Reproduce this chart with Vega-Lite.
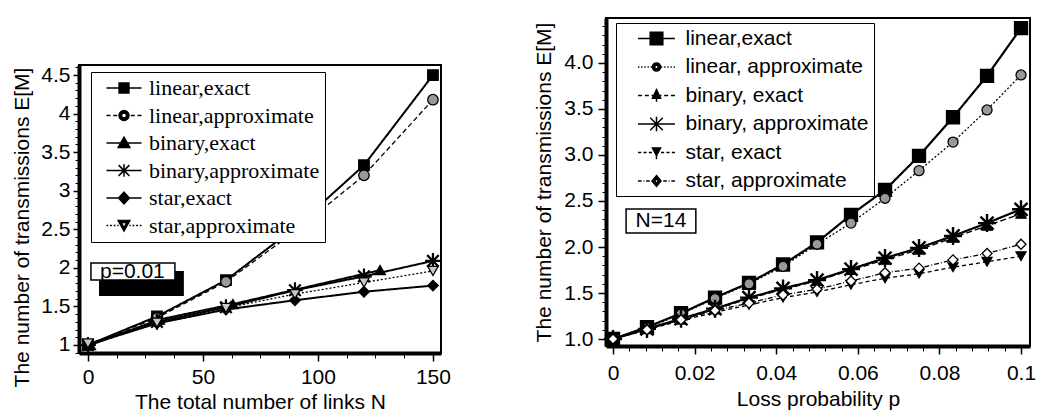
{
  "$schema": "https://vega.github.io/schema/vega-lite/v6.json",
  "background": "white",
  "padding": {"left": 10, "top": 17, "right": 2, "bottom": 2},
  "spacing": 80,
  "config": {
    "font": "Liberation Sans",
    "view": {"stroke": "black", "strokeWidth": 2},
    "axis": {
      "grid": false,
      "labelFont": "Liberation Sans",
      "titleFont": "Liberation Sans",
      "labelFontSize": 21,
      "titleFontSize": 21,
      "titleFontWeight": "normal",
      "labelColor": "black",
      "titleColor": "black",
      "tickColor": "black",
      "domainColor": "black"
    }
  },
  "resolve": {"scale": {"x": "independent", "y": "independent", "shape": "independent", "fill": "independent", "strokeDash": "independent"}},
  "hconcat": [
    {
      "spacing": 0,
      "vconcat": [
        {
          "width": 10,
          "height": 45,
          "view": {"stroke": null},
          "data": {"values": []},
          "mark": {"type": "point", "opacity": 0}
        },
        {
          "width": 362,
          "height": 288,
          "data": {
            "values": [
              {"curve": "linear,exact", "n": 0, "m": 1.0},
              {"curve": "linear,exact", "n": 30, "m": 1.37},
              {"curve": "linear,exact", "n": 60, "m": 1.84},
              {"curve": "linear,exact", "n": 90, "m": 2.52},
              {"curve": "linear,exact", "n": 120, "m": 3.33},
              {"curve": "linear,exact", "n": 150, "m": 4.5},
              {"curve": "linear,approximate", "n": 0, "m": 1.0},
              {"curve": "linear,approximate", "n": 30, "m": 1.35},
              {"curve": "linear,approximate", "n": 60, "m": 1.82},
              {"curve": "linear,approximate", "n": 90, "m": 2.47},
              {"curve": "linear,approximate", "n": 120, "m": 3.2},
              {"curve": "linear,approximate", "n": 150, "m": 4.18},
              {"curve": "binary,exact", "n": 1, "m": 1.0},
              {"curve": "binary,exact", "n": 31, "m": 1.33},
              {"curve": "binary,exact", "n": 63, "m": 1.53},
              {"curve": "binary,exact", "n": 127, "m": 1.97},
              {"curve": "binary,approximate", "n": 0, "m": 1.0},
              {"curve": "binary,approximate", "n": 30, "m": 1.3},
              {"curve": "binary,approximate", "n": 60, "m": 1.49},
              {"curve": "binary,approximate", "n": 90, "m": 1.71},
              {"curve": "binary,approximate", "n": 120, "m": 1.89},
              {"curve": "binary,approximate", "n": 150, "m": 2.09},
              {"curve": "star,exact", "n": 0, "m": 1.0},
              {"curve": "star,exact", "n": 30, "m": 1.28},
              {"curve": "star,exact", "n": 60, "m": 1.46},
              {"curve": "star,exact", "n": 90, "m": 1.58},
              {"curve": "star,exact", "n": 120, "m": 1.69},
              {"curve": "star,exact", "n": 150, "m": 1.77},
              {"curve": "star,approximate", "n": 0, "m": 1.02},
              {"curve": "star,approximate", "n": 30, "m": 1.29},
              {"curve": "star,approximate", "n": 60, "m": 1.48},
              {"curve": "star,approximate", "n": 90, "m": 1.66},
              {"curve": "star,approximate", "n": 120, "m": 1.81},
              {"curve": "star,approximate", "n": 150, "m": 1.96}
            ]
          },
          "resolve": {"scale": {"shape": "independent"}, "axis": {"x": "independent", "y": "independent"}},
          "layer": [
            {
              "mark": {"type": "line", "color": "black"},
              "encoding": {
                "x": {
                  "field": "n", "type": "quantitative",
                  "scale": {"domain": [-3.9, 153.5], "nice": false, "zero": false},
                  "axis": {"orient": "bottom", "values": [0, 50, 100, 150], "format": "d", "title": "The total number of links N", "tickSize": 8, "tickWidth": 1.5, "labelPadding": 5, "titlePadding": 4, "domainWidth": 4}
                },
                "y": {
                  "field": "m", "type": "quantitative",
                  "scale": {"domain": [0.896, 4.63], "nice": false, "zero": false},
                  "axis": {"orient": "left", "values": [1, 1.5, 2, 2.5, 3, 3.5, 4, 4.5], "format": "~g", "title": "The number of transmissions E[M]", "tickSize": 6, "tickWidth": 1.5, "labelPadding": 3, "titlePadding": 8, "domainWidth": 4, "titleY": 162}
                },
                "detail": {"field": "curve", "type": "nominal"},
                "strokeDash": {
                  "field": "curve", "type": "nominal", "legend": null,
                  "scale": {
                    "domain": ["linear,exact", "linear,approximate", "binary,exact", "binary,approximate", "star,exact", "star,approximate"],
                    "range": [[1, 0], [5, 3], [1, 0], [1, 0], [1, 0], [2, 2]]
                  }
                },
                "strokeWidth": {"condition": {"test": "datum.curve === 'star,approximate' || datum.curve === 'linear,approximate'", "value": 1.3}, "value": 2}
              }
            },
            {
              "mark": {"type": "point", "filled": true, "stroke": "black", "size": 110, "opacity": 1},
              "encoding": {
                "x": {
                  "field": "n", "type": "quantitative",
                  "axis": {"orient": "bottom", "values": [0, 12.5, 25, 37.5, 50, 62.5, 75, 87.5, 100, 112.5, 125, 137.5, 150], "labels": false, "domain": false, "title": null, "tickSize": 5, "tickWidth": 1}
                },
                "y": {
                  "field": "m", "type": "quantitative",
                  "axis": {"orient": "left", "values": [0.9, 1, 1.1, 1.2, 1.3, 1.4, 1.5, 1.6, 1.7, 1.8, 1.9, 2, 2.1, 2.2, 2.3, 2.4, 2.5, 2.6, 2.7, 2.8, 2.9, 3, 3.1, 3.2, 3.3, 3.4, 3.5, 3.6, 3.7, 3.8, 3.9, 4, 4.1, 4.2, 4.3, 4.4, 4.5, 4.6], "labels": false, "domain": false, "title": null, "tickSize": 4, "tickWidth": 1}
                },
                "shape": {
                  "field": "curve", "type": "nominal", "legend": null,
                  "scale": {
                    "domain": ["linear,exact", "linear,approximate", "binary,exact", "binary,approximate", "star,exact", "star,approximate"],
                    "range": ["square", "circle", "triangle-up", "M-1.5,0H1.5M0,-1.5V1.5M-1.1,-1.1L1.1,1.1M-1.1,1.1L1.1,-1.1", "diamond", "triangle-down"]
                  }
                },
                "fill": {
                  "field": "curve", "type": "nominal", "legend": null,
                  "scale": {
                    "domain": ["linear,exact", "linear,approximate", "binary,exact", "binary,approximate", "star,exact", "star,approximate"],
                    "range": ["black", "#999999", "black", "black", "black", "#c8c8c8"]
                  }
                },
                "strokeWidth": {"condition": {"test": "datum.curve === 'binary,approximate'", "value": 2.2}, "value": 1.3}
              }
            },
            {
              "transform": [{"filter": "false"}],
              "mark": {"type": "point", "filled": true, "fill": "black", "stroke": "black", "strokeWidth": 1.5, "size": 324, "opacity": 1},
              "encoding": {
                "shape": {
                  "field": "curve", "type": "nominal",
                  "scale": {
                    "domain": ["linear,exact", "linear,approximate", "binary,exact", "binary,approximate", "star,exact", "star,approximate"],
                    "range": [
                      "M-1.95,0H1.95M-0.55,-0.55H0.55V0.55H-0.55Z",
                      "M-1.95,0H-1.5M-1.2,0H-0.75M0.75,0H1.2M1.5,0H1.95M0.55,0A0.55,0.55 0 1,1 -0.55,0A0.55,0.55 0 1,1 0.55,0ZM0.28,0A0.28,0.28 0 1,0 -0.28,0A0.28,0.28 0 1,0 0.28,0Z",
                      "M-1.95,0H1.95M0,-0.65L0.65,0.5H-0.65Z",
                      "M-1.95,0H1.95M0,-0.7V0.7M-0.6,-0.6L0.6,0.6M-0.6,0.6L0.6,-0.6",
                      "M-1.95,0H1.95M0,-0.65L0.6,0L0,0.65L-0.6,0Z",
                      "M-1.95,0H-1.75M-1.55,0H-1.35M-1.15,0H-0.95M-0.75,0H-0.6M0.6,0H0.75M0.95,0H1.15M1.35,0H1.55M1.75,0H1.95M-0.65,-0.55H0.65L0,0.6ZM-0.3,-0.32L0,0.25L0.3,-0.32Z"
                    ]
                  },
                  "legend": {
                    "orient": "none", "legendX": 12, "legendY": 7, "title": null,
                    "labelFont": "Liberation Serif", "labelFontSize": 22, "labelColor": "black", "labelLimit": 400,
                    "symbolOffset": 17, "labelOffset": 14, "symbolSize": 324,
                    "strokeColor": "black", "fillColor": "white", "padding": 5, "rowPadding": 5.5,
                    "encode": {
                      "symbols": {"update": {"stroke": {"value": "black"}, "fill": {"value": "black"}, "strokeWidth": {"value": 1.5}, "opacity": {"value": 1}}},
                      "legend": {"update": {"strokeWidth": {"value": 2}}}
                    }
                  }
                }
              }
            },
            {
              "data": {"values": [{}]},
              "mark": {"type": "rect", "fill": "black"},
              "encoding": {
                "x": {"datum": 4.8, "type": "quantitative", "axis": null},
                "x2": {"datum": 41.7},
                "y": {"datum": 1.959, "type": "quantitative", "axis": null},
                "y2": {"datum": 1.635}
              }
            },
            {
              "data": {"values": [{}]},
              "mark": {"type": "rect", "fill": "white", "stroke": "black", "strokeWidth": 1.5},
              "encoding": {
                "x": {"datum": 1.3, "type": "quantitative", "axis": null},
                "x2": {"datum": 37.8},
                "y": {"datum": 2.063, "type": "quantitative", "axis": null},
                "y2": {"datum": 1.843}
              }
            },
            {
              "data": {"values": [{}]},
              "mark": {"type": "text", "text": "p=0.01", "font": "Liberation Sans", "fontSize": 21, "color": "black", "align": "center", "baseline": "middle"},
              "encoding": {
                "x": {"datum": 19.3, "type": "quantitative", "axis": null},
                "y": {"datum": 1.946, "type": "quantitative", "axis": null}
              }
            }
          ]
        }
      ]
    },
    {
      "width": 424,
      "height": 328,
      "data": {
        "values": [
          {"series": "linear,exact", "p": 0, "m": 1.0},
          {"series": "linear,exact", "p": 0.00833, "m": 1.13},
          {"series": "linear,exact", "p": 0.01667, "m": 1.28},
          {"series": "linear,exact", "p": 0.025, "m": 1.45},
          {"series": "linear,exact", "p": 0.03333, "m": 1.61},
          {"series": "linear,exact", "p": 0.04167, "m": 1.81},
          {"series": "linear,exact", "p": 0.05, "m": 2.05},
          {"series": "linear,exact", "p": 0.05833, "m": 2.35},
          {"series": "linear,exact", "p": 0.06667, "m": 2.62},
          {"series": "linear,exact", "p": 0.075, "m": 2.99},
          {"series": "linear,exact", "p": 0.08333, "m": 3.41},
          {"series": "linear,exact", "p": 0.09167, "m": 3.86},
          {"series": "linear,exact", "p": 0.1, "m": 4.38},
          {"series": "linear, approximate", "p": 0, "m": 1.0},
          {"series": "linear, approximate", "p": 0.00833, "m": 1.12},
          {"series": "linear, approximate", "p": 0.01667, "m": 1.27},
          {"series": "linear, approximate", "p": 0.025, "m": 1.44},
          {"series": "linear, approximate", "p": 0.03333, "m": 1.6},
          {"series": "linear, approximate", "p": 0.04167, "m": 1.79},
          {"series": "linear, approximate", "p": 0.05, "m": 2.03},
          {"series": "linear, approximate", "p": 0.05833, "m": 2.26},
          {"series": "linear, approximate", "p": 0.06667, "m": 2.53},
          {"series": "linear, approximate", "p": 0.075, "m": 2.83},
          {"series": "linear, approximate", "p": 0.08333, "m": 3.14},
          {"series": "linear, approximate", "p": 0.09167, "m": 3.49},
          {"series": "linear, approximate", "p": 0.1, "m": 3.87},
          {"series": "binary, exact", "p": 0, "m": 1.0},
          {"series": "binary, exact", "p": 0.00833, "m": 1.11},
          {"series": "binary, exact", "p": 0.01667, "m": 1.21},
          {"series": "binary, exact", "p": 0.025, "m": 1.32},
          {"series": "binary, exact", "p": 0.03333, "m": 1.44},
          {"series": "binary, exact", "p": 0.04167, "m": 1.54},
          {"series": "binary, exact", "p": 0.05, "m": 1.63},
          {"series": "binary, exact", "p": 0.05833, "m": 1.75},
          {"series": "binary, exact", "p": 0.06667, "m": 1.86},
          {"series": "binary, exact", "p": 0.075, "m": 1.97},
          {"series": "binary, exact", "p": 0.08333, "m": 2.1},
          {"series": "binary, exact", "p": 0.09167, "m": 2.23},
          {"series": "binary, exact", "p": 0.1, "m": 2.36},
          {"series": "binary, approximate", "p": 0, "m": 1.0},
          {"series": "binary, approximate", "p": 0.00833, "m": 1.11},
          {"series": "binary, approximate", "p": 0.01667, "m": 1.22},
          {"series": "binary, approximate", "p": 0.025, "m": 1.33},
          {"series": "binary, approximate", "p": 0.03333, "m": 1.45},
          {"series": "binary, approximate", "p": 0.04167, "m": 1.55},
          {"series": "binary, approximate", "p": 0.05, "m": 1.64},
          {"series": "binary, approximate", "p": 0.05833, "m": 1.76},
          {"series": "binary, approximate", "p": 0.06667, "m": 1.88},
          {"series": "binary, approximate", "p": 0.075, "m": 1.99},
          {"series": "binary, approximate", "p": 0.08333, "m": 2.12},
          {"series": "binary, approximate", "p": 0.09167, "m": 2.26},
          {"series": "binary, approximate", "p": 0.1, "m": 2.41},
          {"series": "star, exact", "p": 0, "m": 1.0},
          {"series": "star, exact", "p": 0.00833, "m": 1.1},
          {"series": "star, exact", "p": 0.01667, "m": 1.2},
          {"series": "star, exact", "p": 0.025, "m": 1.29},
          {"series": "star, exact", "p": 0.03333, "m": 1.37},
          {"series": "star, exact", "p": 0.04167, "m": 1.45},
          {"series": "star, exact", "p": 0.05, "m": 1.51},
          {"series": "star, exact", "p": 0.05833, "m": 1.59},
          {"series": "star, exact", "p": 0.06667, "m": 1.66},
          {"series": "star, exact", "p": 0.075, "m": 1.71},
          {"series": "star, exact", "p": 0.08333, "m": 1.78},
          {"series": "star, exact", "p": 0.09167, "m": 1.84},
          {"series": "star, exact", "p": 0.1, "m": 1.9},
          {"series": "star, approximate", "p": 0, "m": 1.0},
          {"series": "star, approximate", "p": 0.00833, "m": 1.1},
          {"series": "star, approximate", "p": 0.01667, "m": 1.21},
          {"series": "star, approximate", "p": 0.025, "m": 1.31},
          {"series": "star, approximate", "p": 0.03333, "m": 1.39},
          {"series": "star, approximate", "p": 0.04167, "m": 1.48},
          {"series": "star, approximate", "p": 0.05, "m": 1.54},
          {"series": "star, approximate", "p": 0.05833, "m": 1.63},
          {"series": "star, approximate", "p": 0.06667, "m": 1.72},
          {"series": "star, approximate", "p": 0.075, "m": 1.77},
          {"series": "star, approximate", "p": 0.08333, "m": 1.86},
          {"series": "star, approximate", "p": 0.09167, "m": 1.93},
          {"series": "star, approximate", "p": 0.1, "m": 2.03}
        ]
      },
      "resolve": {"scale": {"shape": "independent"}, "axis": {"x": "independent", "y": "independent"}},
      "layer": [
        {
          "mark": {"type": "line", "color": "black"},
          "encoding": {
            "x": {
              "field": "p", "type": "quantitative",
              "scale": {"domain": [-0.00172, 0.1022], "nice": false, "zero": false},
              "axis": {"orient": "bottom", "values": [0, 0.02, 0.04, 0.06, 0.08, 0.1], "format": "~g", "title": "Loss probability p", "tickSize": 8, "tickWidth": 1.5, "labelPadding": 8, "titlePadding": 5, "domainWidth": 4}
            },
            "y": {
              "field": "m", "type": "quantitative",
              "scale": {"domain": [0.924, 4.489], "nice": false, "zero": false},
              "axis": {"orient": "left", "values": [1, 1.5, 2, 2.5, 3, 3.5, 4], "format": ".1f", "title": "The number of transmissions E[M]", "tickSize": 8, "tickWidth": 1.5, "labelPadding": 5, "titlePadding": 9, "domainWidth": 4}
            },
            "detail": {"field": "series", "type": "nominal"},
            "strokeDash": {
              "field": "series", "type": "nominal", "legend": null,
              "scale": {
                "domain": ["linear,exact", "linear, approximate", "binary, exact", "binary, approximate", "star, exact", "star, approximate"],
                "range": [[1, 0], [2, 2], [6, 3], [1, 0], [4, 3], [5, 2, 1, 2]]
              }
            },
            "strokeWidth": {"condition": {"test": "datum.series === 'linear,exact' || datum.series === 'binary, approximate'", "value": 2.2}, "value": 1.3}
          }
        },
        {
          "mark": {"type": "point", "filled": true, "stroke": "black", "size": 100, "opacity": 1},
          "encoding": {
            "x": {
              "field": "p", "type": "quantitative",
              "axis": {"orient": "bottom", "values": [0, 0.004, 0.008, 0.012, 0.016, 0.02, 0.024, 0.028, 0.032, 0.036, 0.04, 0.044, 0.048, 0.052, 0.056, 0.06, 0.064, 0.068, 0.072, 0.076, 0.08, 0.084, 0.088, 0.092, 0.096, 0.1], "labels": false, "domain": false, "title": null, "tickSize": 5, "tickWidth": 1}
            },
            "y": {
              "field": "m", "type": "quantitative",
              "axis": {"orient": "left", "values": [1, 1.1, 1.2, 1.3, 1.4, 1.5, 1.6, 1.7, 1.8, 1.9, 2, 2.1, 2.2, 2.3, 2.4, 2.5, 2.6, 2.7, 2.8, 2.9, 3, 3.1, 3.2, 3.3, 3.4, 3.5, 3.6, 3.7, 3.8, 3.9, 4, 4.1, 4.2, 4.3, 4.4], "labels": false, "domain": false, "title": null, "tickSize": 4, "tickWidth": 1}
            },
            "shape": {
              "field": "series", "type": "nominal", "legend": null,
              "scale": {
                "domain": ["linear,exact", "linear, approximate", "binary, exact", "binary, approximate", "star, exact", "star, approximate"],
                "range": ["M-1.3,-1.3H1.3V1.3H-1.3Z", "circle", "triangle-up", "M-1.8,0H1.8M0,-1.8V1.8M-1.3,-1.3L1.3,1.3M-1.3,1.3L1.3,-1.3", "triangle-down", "diamond"]
              }
            },
            "fill": {
              "field": "series", "type": "nominal", "legend": null,
              "scale": {
                "domain": ["linear,exact", "linear, approximate", "binary, exact", "binary, approximate", "star, exact", "star, approximate"],
                "range": ["black", "#999999", "black", "black", "black", "white"]
              }
            },
            "strokeWidth": {"condition": {"test": "datum.series === 'binary, approximate'", "value": 2.4}, "value": 1.3}
          }
        },
        {
          "transform": [{"filter": "false"}],
          "mark": {"type": "point", "filled": true, "fill": "black", "stroke": "black", "strokeWidth": 1.5, "size": 324, "opacity": 1},
          "encoding": {
            "shape": {
              "field": "series", "type": "nominal",
              "scale": {
                "domain": ["linear,exact", "linear, approximate", "binary, exact", "binary, approximate", "star, exact", "star, approximate"],
                "range": [
                  "M-2.05,0H2.05M-0.7,-0.7H0.7V0.7H-0.7Z",
                  "M-2.05,0H-1.9M-1.7,0H-1.55M-1.35,0H-1.2M-1,0H-0.85M-0.65,0H-0.5M0.5,0H0.65M0.85,0H1M1.2,0H1.35M1.55,0H1.7M1.9,0H2.05M0.45,0A0.45,0.45 0 1,1 -0.45,0A0.45,0.45 0 1,1 0.45,0ZM0.2,0A0.2,0.2 0 1,0 -0.2,0A0.2,0.2 0 1,0 0.2,0Z",
                  "M-2.05,0H-1.6M-1.3,0H-0.85M-0.55,0H-0.35M0.35,0H0.55M0.85,0H1.3M1.6,0H2.05M0,-0.65L0.45,0.3H-0.45ZM0,0.3V0.7",
                  "M-2.05,0H2.05M0,-0.8V0.8M-0.7,-0.7L0.7,0.7M-0.7,0.7L0.7,-0.7",
                  "M-2.05,0H-1.7M-1.45,0H-1.1M-0.85,0H-0.5M0.5,0H0.85M1.1,0H1.45M1.7,0H2.05M-0.45,-0.5H0.45L0,0.35ZM0,0.35V0.75",
                  "M-2.05,0H-1.65M-1.45,0H-1.35M-1.15,0H-0.75M0.75,0H1.15M1.35,0H1.45M1.65,0H2.05M0,-0.6L0.5,0L0,0.6L-0.5,0ZM0,-0.25L-0.2,0L0,0.25L0.2,0Z"
                ]
              },
              "legend": {
                "orient": "none", "legendX": 10, "legendY": 5, "title": null,
                "labelFont": "Liberation Sans", "labelFontSize": 21, "labelColor": "black", "labelLimit": 400,
                "symbolOffset": 25, "labelOffset": 18.5, "symbolSize": 324,
                "strokeColor": "black", "fillColor": "white", "padding": 5, "rowPadding": 6.5,
                "encode": {
                  "symbols": {"update": {"stroke": {"value": "black"}, "fill": {"value": "black"}, "strokeWidth": {"value": 1.5}, "opacity": {"value": 1}}},
                  "legend": {"update": {"strokeWidth": {"value": 2}}}
                }
              }
            }
          }
        },
        {
          "data": {"values": [{}]},
          "mark": {"type": "rect", "fill": "white", "stroke": "black", "strokeWidth": 1.5},
          "encoding": {
            "x": {"datum": 0.0032, "type": "quantitative", "axis": null},
            "x2": {"datum": 0.0203},
            "y": {"datum": 2.413, "type": "quantitative", "axis": null},
            "y2": {"datum": 2.152}
          }
        },
        {
          "data": {"values": [{}]},
          "mark": {"type": "text", "text": "N=14", "font": "Liberation Sans", "fontSize": 21, "color": "black", "align": "center", "baseline": "middle"},
          "encoding": {
            "x": {"datum": 0.01176, "type": "quantitative", "axis": null},
            "y": {"datum": 2.283, "type": "quantitative", "axis": null}
          }
        }
      ]
    }
  ]
}
